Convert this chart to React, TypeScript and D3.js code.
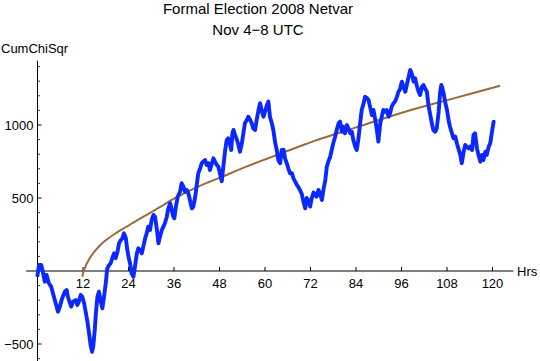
import React from "react";
import * as d3 from "d3";

const titleLines = ["Formal Election 2008 Netvar", "Nov 4\u22128 UTC"];
const yLabel = "CumChiSqr";
const xLabel = "Hrs";
const xTicks = [12, 24, 36, 48, 60, 72, 84, 96, 108, 120];
const yTicksMajor = [-500, 500, 1000];

const blueHrs = [0,0.4,1.0,1.5,1.9,2.4,3.0,3.6,4.2,4.8,5.4,5.9,6.5,7.2,7.7,8.0,8.6,8.9,9.4,10.1,10.5,10.9,11.4,11.8,12.3,12.7,13.1,13.6,14.0,14.4,14.7,15.1,15.4,15.8,16.2,16.7,17.1,17.5,18.0,18.4,18.9,19.3,19.7,20.2,20.6,21.1,21.5,22.0,22.4,22.8,23.3,23.6,24.0,24.4,24.8,25.3,25.7,26.2,26.6,27.0,27.5,27.9,28.4,28.8,29.2,29.7,30.1,30.6,31.0,31.5,31.9,32.3,32.8,33.2,33.6,34.1,34.5,35.0,35.4,35.8,36.1,36.5,37.0,37.6,38.0,38.5,38.9,39.4,39.8,40.2,40.7,41.1,41.6,42.0,42.4,42.9,43.3,43.7,44.2,44.6,45.1,45.5,46.0,46.4,46.8,47.3,47.7,48.2,48.6,49.0,49.5,49.9,50.3,50.8,51.1,51.4,51.7,52.1,52.6,53.0,53.4,53.9,54.3,54.7,55.2,55.6,56.1,56.5,56.9,57.4,57.8,58.3,58.7,59.2,59.6,60.0,60.5,60.9,61.3,61.8,62.2,62.7,63.1,63.5,64.0,64.4,64.9,65.3,65.7,66.2,66.6,67.1,67.5,67.9,68.4,68.8,69.3,69.7,70.1,70.6,71.0,71.5,71.9,72.3,72.8,73.2,73.6,74.1,74.5,75.0,75.4,75.9,76.3,76.7,77.2,77.6,78.0,78.5,78.9,79.4,79.8,80.3,80.7,81.1,81.6,82.0,82.5,82.9,83.3,83.8,84.2,84.6,85.1,85.5,86.0,86.4,86.9,87.3,87.7,88.2,88.6,89.1,89.5,89.9,90.4,90.8,91.2,91.7,92.1,92.6,93.0,93.4,93.9,94.3,94.8,95.2,95.6,96.1,96.5,97.0,97.4,97.8,98.3,98.7,99.2,99.6,100.0,100.5,100.9,101.4,101.8,102.2,102.7,103.1,103.6,104.0,104.4,104.9,105.3,105.8,106.2,106.5,106.8,107.1,107.5,108.0,108.4,108.8,109.3,109.7,110.2,110.6,111.0,111.5,111.9,112.4,112.8,113.2,113.7,114.1,114.6,115.0,115.4,115.9,116.3,116.8,117.2,117.6,118.1,118.5,119.0,119.4,119.8,120.3];
const blueVals = [-30,41,41,-16,-73,-27,-84,-107,-164,-221,-279,-244,-187,-142,-130,-176,-221,-244,-210,-199,-233,-210,-164,-176,-221,-279,-336,-427,-507,-553,-518,-404,-290,-176,-142,-210,-256,-187,-84,18,41,53,87,121,87,132,190,212,224,258,224,160,98,53,-16,-39,30,121,155,144,121,167,224,258,304,281,349,384,372,281,190,235,281,304,327,372,429,464,418,372,361,441,509,543,601,577,543,555,532,486,429,441,509,589,669,703,738,749,760,726,738,692,738,772,749,726,714,658,615,714,829,897,909,863,829,943,966,932,897,863,817,875,943,1012,1034,1057,1034,1012,977,966,1034,1103,1149,1091,1057,1091,1137,1160,1057,1012,966,875,829,760,738,829,830,770,740,700,669,670,635,615,590,575,550,527,480,429,500,480,441,495,537,520,509,555,532,486,555,623,714,749,783,829,875,920,966,1012,1023,954,988,943,1000,977,943,954,897,852,829,897,1012,1103,1149,1194,1183,1171,1126,1068,1103,1034,966,886,1012,1057,1103,1091,1103,1057,1080,1126,1149,1160,1194,1228,1245,1297,1263,1228,1274,1320,1377,1354,1297,1320,1274,1228,1205,1263,1274,1251,1228,1137,1068,1012,966,954,977,1091,1228,1274,1251,1217,1160,1103,1034,988,943,909,920,875,840,795,738,817,863,852,840,852,829,932,943,840,795,749,795,760,817,795,852,875,943,1023];

const brownHrs = [11.8,12.3,13.6,15.4,17.5,20.6,23.1,25.0,27.5,31.9,36.3,40.7,45.1,48.6,55.6,64.2,70.6,73.2,83.8,97.0,109.3,122.0];
const brownVals = [-39,7,80,145,200,258,298,327,365,432,500,558,608,645,720,805,868,893,982,1091,1179,1269];

const W = 540;
const H = 361;
const font = "'Liberation Sans', Arial, Helvetica, sans-serif";

export default function App() {
  const x = d3.scaleLinear().domain([0, 120]).range([37.5, 492.5]);
  const y = d3.scaleLinear().domain([0, 1000]).range([271, 125]);

  const blue: [number, number][] = blueHrs.map((h, i) => [h, blueVals[i]]);
  const brown: [number, number][] = brownHrs.map((h, i) => [h, brownVals[i]]);

  const blueLine = d3
    .line<[number, number]>()
    .x((d) => x(d[0]))
    .y((d) => y(d[1]));
  const brownLine = d3
    .line<[number, number]>()
    .x((d) => x(d[0]))
    .y((d) => y(d[1]))
    .curve(d3.curveCatmullRom.alpha(0.5));

  const minorY = d3.range(-600, 1401, 100).filter((v) => v !== 0 && !yTicksMajor.includes(v));
  const x0 = x(0);
  const y0 = y(0);

  return (
    <svg
      width={W}
      height={H}
      style={{ position: "absolute", left: 0, top: 0, background: "#fff" }}
      fontFamily={font}
    >
      <text x={258} y={14} textAnchor="middle" fontSize={15} fill="#000">
        {titleLines[0]}
      </text>
      <text x={258} y={35} textAnchor="middle" fontSize={15} fill="#000">
        {titleLines[1]}
      </text>
      <text x={1} y={53} fontSize={13} fill="#000">
        {yLabel}
      </text>

      <line x1={x(-3)} x2={x(125.5)} y1={y0} y2={y0} stroke="#000" strokeWidth={1} />
      <line x1={x0} x2={x0} y1={y(1440)} y2={y(-620)} stroke="#000" strokeWidth={1} />

      {xTicks.map((t) => (
        <g key={"xt" + t}>
          <line x1={x(t)} x2={x(t)} y1={y0} y2={y0 - 4} stroke="#000" strokeWidth={1} />
          <text x={x(t)} y={y0 + 17} textAnchor="middle" fontSize={13} fill="#000">
            {t}
          </text>
        </g>
      ))}
      <text x={517} y={y0 + 5} fontSize={13} fill="#000">
        {xLabel}
      </text>

      {yTicksMajor.map((t) => (
        <g key={"yt" + t}>
          <line x1={x0} x2={x0 + 4} y1={y(t)} y2={y(t)} stroke="#000" strokeWidth={1} />
          <text x={x0 - 4} y={y(t) + 4.5} textAnchor="end" fontSize={13} fill="#000">
            {t < 0 ? "\u2212" + Math.abs(t) : String(t)}
          </text>
        </g>
      ))}
      {minorY.map((t) => (
        <line key={"ym" + t} x1={x0} x2={x0 + 2.5} y1={y(t)} y2={y(t)} stroke="#000" strokeWidth={0.8} />
      ))}

      <path d={brownLine(brown) || ""} fill="none" stroke="#9b6b3b" strokeWidth={2} />
      <path
        d={blueLine(blue) || ""}
        fill="none"
        stroke="#0a28ff"
        strokeWidth={3.9}
        strokeLinejoin="round"
        strokeLinecap="round"
      />
    </svg>
  );
}
